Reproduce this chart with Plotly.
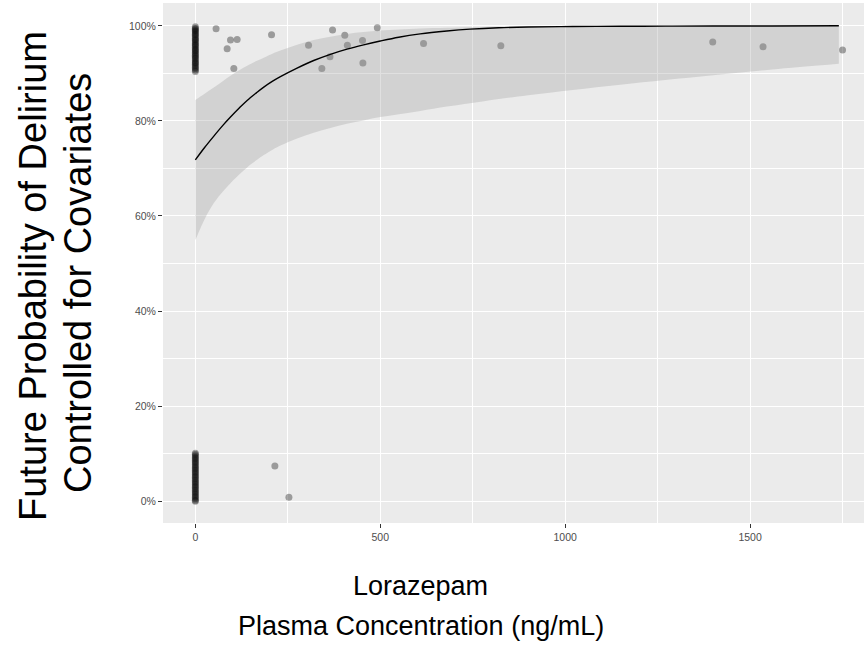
import plotly.graph_objects as go

# ---- data ----
# fitted curve and confidence band
curve_x = [0, 25, 50, 75, 95, 120, 140, 165, 185, 210, 230, 275, 320, 365, 410, 455, 500, 550, 608, 680, 743, 820, 900, 1020, 1149, 1270, 1400, 1560, 1740]
curve_y = [71.8, 74.4, 76.8, 79.1, 80.8, 82.8, 84.3, 85.9, 87.1, 88.4, 89.3, 91.1, 92.7, 94.0, 95.1, 96.0, 96.8, 97.6, 98.3, 98.9, 99.3, 99.6, 99.75, 99.85, 99.9, 99.93, 99.95, 99.97, 100.0]
band_hi = [84.4, 85.7, 87.0, 88.4, 89.5, 90.7, 91.6, 92.6, 93.3, 94.2, 94.8, 96.0, 97.0, 97.7, 98.3, 98.7, 99.0, 99.25, 99.45, 99.6, 99.72, 99.8, 99.86, 99.9, 99.94, 99.96, 99.97, 99.98, 100.0]
band_lo = [54.9, 59.3, 62.7, 65.2, 66.9, 68.8, 70.2, 71.7, 72.8, 74.0, 74.8, 76.3, 77.5, 78.5, 79.4, 80.1, 80.8, 81.4, 82.1, 83.0, 83.7, 84.6, 85.4, 86.5, 87.6, 88.6, 89.6, 90.8, 92.0]

# observations at zero concentration (two clusters)
zero_top_y = [99.8, 99.5, 99.3, 99.0, 98.8, 98.5, 98.2, 98.0, 97.7, 97.4, 97.1, 96.9, 96.6, 96.3,
              96.0, 95.8, 95.5, 95.2, 94.9, 94.7, 94.4, 94.1, 93.8, 93.6, 93.3, 93.0, 92.7, 92.4,
              92.2, 91.9, 91.6, 91.3, 91.0, 90.7, 90.4]
zero_bot_y = [10.1, 9.8, 9.5, 9.2, 8.9, 8.6, 8.3, 8.0, 7.7, 7.4, 7.1, 6.8, 6.5, 6.2, 5.9, 5.6,
              5.3, 5.0, 4.7, 4.4, 4.1, 3.8, 3.5, 3.2, 2.9, 2.6, 2.3, 2.0, 1.7, 1.4, 1.1, 0.8,
              0.5, 0.2, 0.0]

# observations with non-zero concentration
obs_x = [56, 86, 95, 113, 104, 206, 306, 342, 364, 371, 404, 411, 452, 453, 492, 617, 826,
         1399, 1535, 1750, 215, 253]
obs_y = [99.4, 95.2, 97.0, 97.1, 91.0, 98.1, 95.9, 91.0, 93.5, 99.1, 98.0, 95.9, 96.9, 92.2,
         99.6, 96.3, 95.8, 96.6, 95.6, 94.9, 7.4, 0.8]

x_ticks = [0, 500, 1000, 1500]
x_minor = [250, 750, 1250, 1750]
y_ticks = [0, 20, 40, 60, 80, 100]
y_ticklabels = ["0%", "20%", "40%", "60%", "80%", "100%"]
y_minor = [10, 30, 50, 70, 90]

x_title_1 = "Lorazepam"
x_title_2 = "Plasma Concentration (ng/mL)"
y_title_1 = "Future Probability of Delirium"
y_title_2 = "Controlled for Covariates"

# ---- figure ----
W, H = 864, 648
ML, MR, MT, MB = 163, 0, 3, 125
PW, PH = W - ML - MR, H - MT - MB

def px2paper_x(px):
    return (px - ML) / PW

def px2paper_y(py):
    return (H - MB - py) / PH

FONT = "Liberation Sans, Arial, Helvetica, sans-serif"

fig = go.Figure()

all_x = [0] * len(zero_top_y) + [0] * len(zero_bot_y) + obs_x
all_y = zero_top_y + zero_bot_y + obs_y
fig.add_trace(go.Scatter(
    x=all_x, y=all_y, mode="markers",
    marker=dict(size=7, color="rgba(0,0,0,0.34)", line=dict(width=0)),
    hoverinfo="skip", showlegend=False))

fig.add_trace(go.Scatter(
    x=curve_x, y=band_lo, mode="lines", line=dict(width=0, shape="spline"),
    hoverinfo="skip", showlegend=False))
fig.add_trace(go.Scatter(
    x=curve_x, y=band_hi, mode="lines", line=dict(width=0, shape="spline"),
    fill="tonexty", fillcolor="rgba(153,153,153,0.3)",
    hoverinfo="skip", showlegend=False))
fig.add_trace(go.Scatter(
    x=curve_x, y=curve_y, mode="lines",
    line=dict(color="black", width=1.4, shape="spline"),
    hoverinfo="skip", showlegend=False))

axis_common = dict(
    showline=False, zeroline=False, showgrid=True,
    gridcolor="white", gridwidth=1.1,
    ticks="outside", ticklen=4, tickwidth=1, tickcolor="#333333",
    tickfont=dict(family=FONT, size=10.5, color="#4d4d4d"),
)

fig.update_xaxes(
    range=[-87.5, 1808], tickmode="array", tickvals=x_ticks,
    ticktext=[str(v) for v in x_ticks],
    minor=dict(tickvals=x_minor, showgrid=True, gridcolor="white", gridwidth=0.5, ticks=""),
    **axis_common)
fig.update_yaxes(
    range=[-4.6, 104.8], tickmode="array", tickvals=y_ticks, ticktext=y_ticklabels,
    minor=dict(tickvals=y_minor, showgrid=True, gridcolor="white", gridwidth=0.5, ticks=""),
    **axis_common)

ann = []
ann.append(dict(text=x_title_1, x=px2paper_x(420), y=px2paper_y(586), xref="paper", yref="paper",
                xanchor="center", yanchor="middle", showarrow=False,
                font=dict(family=FONT, size=27, color="black")))
ann.append(dict(text=x_title_2, x=px2paper_x(421), y=px2paper_y(626), xref="paper", yref="paper",
                xanchor="center", yanchor="middle", showarrow=False,
                font=dict(family=FONT, size=27, color="black")))
ann.append(dict(text=y_title_1, x=px2paper_x(33), y=px2paper_y(276), xref="paper", yref="paper",
                xanchor="center", yanchor="middle", showarrow=False, textangle=-90,
                font=dict(family=FONT, size=38, color="black")))
ann.append(dict(text=y_title_2, x=px2paper_x(78), y=px2paper_y(283), xref="paper", yref="paper",
                xanchor="center", yanchor="middle", showarrow=False, textangle=-90,
                font=dict(family=FONT, size=38, color="black")))

fig.update_layout(
    width=W, height=H,
    margin=dict(l=ML, r=MR, t=MT, b=MB, pad=0),
    paper_bgcolor="white", plot_bgcolor="#EBEBEB",
    annotations=ann, showlegend=False,
    font=dict(family=FONT),
)

fig.write_html("out.html", config={"displayModeBar": False},
               post_script="document.body.style.margin='0';document.body.style.overflow='hidden';")
